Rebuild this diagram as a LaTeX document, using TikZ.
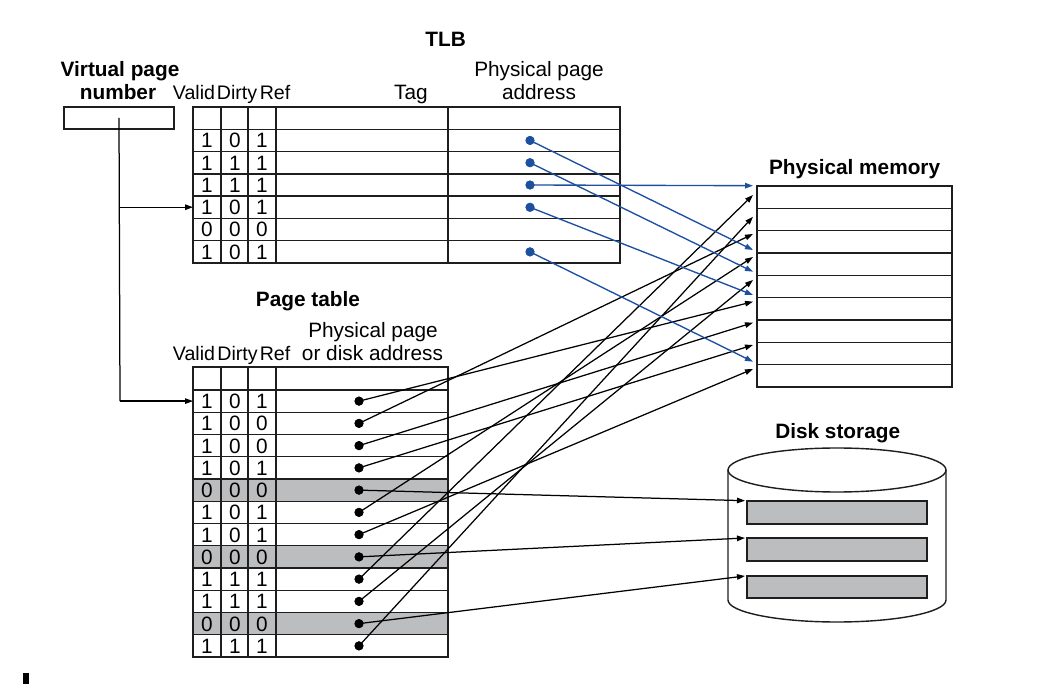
\documentclass[tikz,border=0pt]{standalone}
\usepackage{fontspec}
\setmainfont{Liberation Sans}
\usetikzlibrary{arrows.meta}
\definecolor{tlbblue}{RGB}{30,80,160}
\definecolor{slotgray}{RGB}{188,189,191}
\definecolor{gridcol}{RGB}{30,30,30}
\begin{document}
\begin{tikzpicture}[x=1pt,y=-1pt,
  lbl/.style={inner sep=0,anchor=base,font=\fontsize{20.8}{25}\selectfont},
  blbl/.style={inner sep=0,anchor=base,font=\fontsize{20.8}{25}\selectfont\bfseries},
  hdr/.style={inner sep=0,anchor=base,font=\fontsize{19.6}{25}\selectfont},
  grid/.style={draw=gridcol,line width=1.4pt},
  dotb/.style={circle,fill=black,inner sep=0,minimum size=9pt},
  dotblue/.style={circle,fill=tlbblue,inner sep=0,minimum size=9pt},
  conn/.style={draw=black,line width=1.25pt,-{Triangle[length=8pt,width=5.5pt]}},
  bconn/.style={draw=tlbblue,line width=1.35pt,-{Triangle[length=8pt,width=5.5pt]}},
]
\useasboundingbox[fill=white] (0,0) rectangle (1061,684);

% ---------- titles ----------
\node[blbl] (tTLB) at (445.6,46.7) {TLB};
\node[blbl] (tVP1) at (120,76.5) {Virtual page};
\node[blbl] (tVP2) at (118,99.5) {number};
\node[hdr] (tV1) at (194,100) {Valid};
\node[hdr] (tD1) at (237,100) {Dirty};
\node[hdr] (tR1) at (275,100) {Ref};
\node[lbl] (tTag) at (411,100) {Tag};
\node[lbl] (tPP1) at (539,76.7) {Physical page};
\node[lbl] (tPP2) at (539,100) {address};

\node[blbl] (tPT) at (308,306.7) {Page table};
\node[lbl] (tPP3) at (373,337.3) {Physical page};
\node[lbl] (tPP4) at (372.5,361) {or disk address};
\node[hdr] (tV2) at (194,361) {Valid};
\node[hdr] (tD2) at (237.5,361) {Dirty};
\node[hdr] (tR2) at (275,361) {Ref};

\node[blbl] (tPM) at (854.6,175) {Physical memory};
\node[blbl] (tDS) at (837.7,439) {Disk storage};

% ---------- virtual page number box ----------
\node[draw=gridcol,line width=1.4pt,minimum width=110pt,minimum height=22pt,inner sep=0] (vpn) at (119,118) {};

% ---------- TLB ----------
\draw[grid] (193,107) rectangle (620,263);
\foreach \k in {1,...,6} {
  \pgfmathsetmacro\yy{107+22.2857*\k}
  \draw[grid] (193,\yy) -- (620,\yy);
}
\foreach \xx in {221,248,276,448} \draw[grid] (\xx,107) -- (\xx,263);
\foreach \va/\vb/\vc [count=\i] in {1/0/1,1/1/1,1/1/1,1/0/1,0/0/0,1/0/1} {
  \pgfmathsetmacro\yy{129.29+22.2857*(\i-0.5)+7.4}
  \node[lbl] (tlbv\i) at (207,\yy) {\va};
  \node[lbl] (tlbd\i) at (235,\yy) {\vb};
  \node[lbl] (tlbr\i) at (262,\yy) {\vc};
}

% ---------- Page table ----------
\foreach \r in {5,8,11} {
  \pgfmathsetmacro\ya{390+22.25*(\r-1)}
  \pgfmathsetmacro\yb{390+22.25*\r}
  \fill[slotgray] (193,\ya) rectangle (448,\yb);
}
\draw[grid] (193,367) rectangle (448,657);
\foreach \k in {0,...,11} {
  \pgfmathsetmacro\yy{390+22.25*\k}
  \draw[grid] (193,\yy) -- (448,\yy);
}
\foreach \xx in {221,248,276} \draw[grid] (\xx,367) -- (\xx,657);
\foreach \va/\vb/\vc [count=\i] in {1/0/1,1/0/0,1/0/0,1/0/1,0/0/0,1/0/1,1/0/1,0/0/0,1/1/1,1/1/1,0/0/0,1/1/1} {
  \pgfmathsetmacro\yy{390+22.25*(\i-0.5)+7.4}
  \node[lbl] (ptv\i) at (207,\yy) {\va};
  \node[lbl] (ptd\i) at (235,\yy) {\vb};
  \node[lbl] (ptr\i) at (262,\yy) {\vc};
}

% ---------- Physical memory ----------
\draw[grid] (757,186) rectangle (952,387);
\foreach \k in {1,...,8} {
  \pgfmathsetmacro\yy{186+22.333*\k}
  \draw[grid] (757,\yy) -- (952,\yy);
}

% ---------- Disk storage ----------
\draw[grid] (728,470) -- (728,600) arc[start angle=180,end angle=360,x radius=109pt,y radius=22pt] -- (946,470);
\draw[grid] (837,470) ellipse[x radius=109pt,y radius=22pt];
\draw[grid,fill=slotgray] (747,501) rectangle (927,524);
\draw[grid,fill=slotgray] (747,538) rectangle (927,561);
\draw[grid,fill=slotgray] (747,576) rectangle (927,598);

% ---------- connector end points ----------
\coordinate (vjoin) at (120,207.2);
\coordinate (vbend) at (120,401.1);
\coordinate (tlbin) at (193,207.2);
\coordinate (ptin) at (193,401.1);
\foreach \l/\yy in {0/195,1/216.7,2/234,3/257,4/280,5/301.7,6/322.7,7/345,8/369}
  \coordinate (mb\l) at (753,\yy);
\foreach \l/\yy in {0/185.7,3/250,4/271.7,5/295,8/361.7}
  \coordinate (mu\l) at (753,\yy);
\coordinate (ds1) at (745,500.7);
\coordinate (ds2) at (745,538);
\coordinate (ds3) at (745,576);

% dots
\foreach \i in {1,2,3,4,6} {
  \pgfmathsetmacro\yy{129.29+22.2857*(\i-0.5)}
  \node[dotblue] (t\i) at (530,\yy) {};
}
\foreach \i in {1,...,12} {
  \pgfmathsetmacro\yy{390+22.25*(\i-0.5)}
  \node[dotb] (p\i) at (359,\yy) {};
}

% ---------- connectors ----------
\draw[line width=1.25pt] (vpn.center) -- (vbend);
\draw[conn] (vbend) -- (ptin);
\draw[conn] (vjoin) -- (tlbin);

\foreach \r/\l in {1/5,2/2,3/6,4/7,6/3,7/8,9/0,10/4,12/1}
  \draw[conn] (p\r.center) -- (mb\l);
\foreach \r/\s in {5/1,8/2,11/3}
  \draw[conn] (p\r.center) -- (ds\s);
\foreach \t/\l in {1/3,2/4,3/0,4/5,6/8}
  \draw[bconn] (t\t.center) -- (mu\l);

% redraw dots on top
\foreach \i in {1,2,3,4,6} \fill[tlbblue] (t\i.center) circle[radius=4.5pt];
\foreach \i in {1,...,12} \fill[black] (p\i.center) circle[radius=4.5pt];

% small mark bottom-left
\fill[black] (23.3,672.7) rectangle (28.7,684);
\end{tikzpicture}
\end{document}
